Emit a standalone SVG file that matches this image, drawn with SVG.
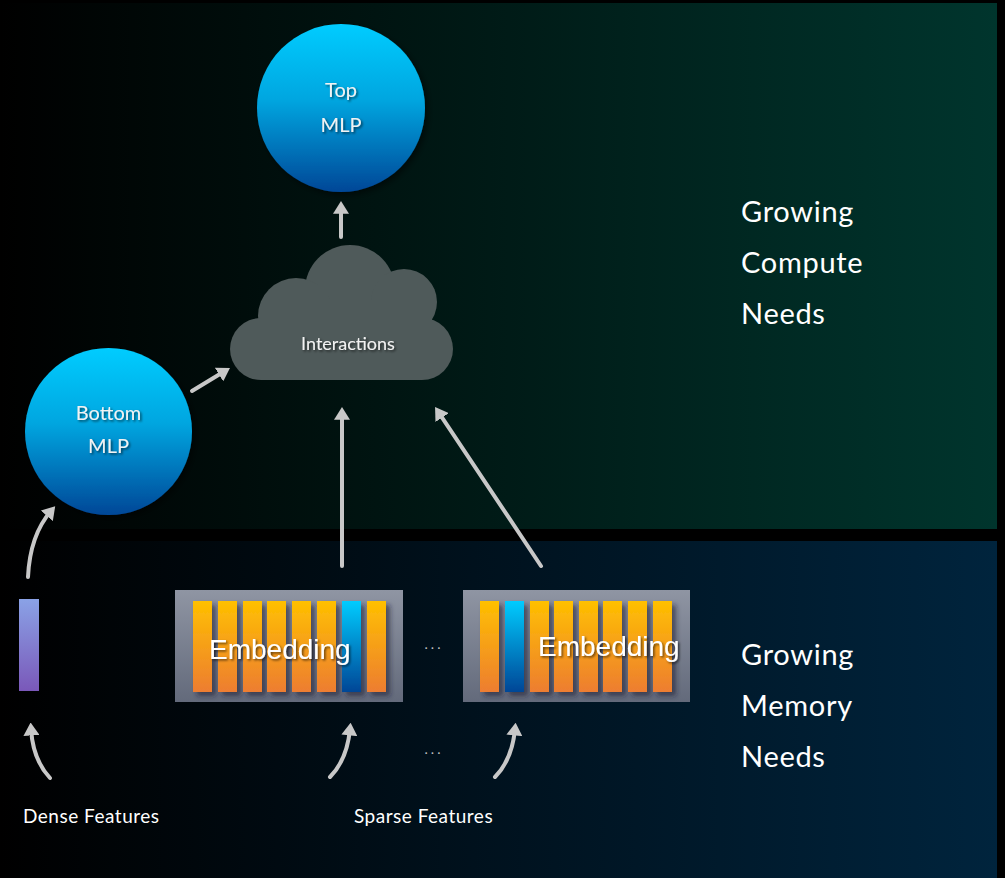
<svg xmlns="http://www.w3.org/2000/svg" width="1005" height="878" viewBox="0 0 1005 878">
  <defs>
    <linearGradient id="bandTop" x1="0" y1="0" x2="1" y2="0">
      <stop offset="0" stop-color="#000000"/>
      <stop offset="1" stop-color="#00352d"/>
    </linearGradient>
    <linearGradient id="bandBottom" x1="0" y1="0" x2="1" y2="0">
      <stop offset="0" stop-color="#000000"/>
      <stop offset="1" stop-color="#00243d"/>
    </linearGradient>
    <linearGradient id="mlpFill" x1="0" y1="0" x2="0" y2="1">
      <stop offset="0" stop-color="#00ccff"/>
      <stop offset="0.45" stop-color="#00a6e0"/>
      <stop offset="1" stop-color="#004797"/>
    </linearGradient>
    <linearGradient id="tableFill" x1="0" y1="0" x2="0" y2="1">
      <stop offset="0" stop-color="#8f95a3"/>
      <stop offset="1" stop-color="#636a7b"/>
    </linearGradient>
    <linearGradient id="orangeBar" x1="0" y1="0" x2="0" y2="1">
      <stop offset="0" stop-color="#ffc000"/>
      <stop offset="1" stop-color="#ed7d31"/>
    </linearGradient>
    <linearGradient id="blueBar" x1="0" y1="0" x2="0" y2="1">
      <stop offset="0" stop-color="#00ccff"/>
      <stop offset="1" stop-color="#004696"/>
    </linearGradient>
    <linearGradient id="denseBar" x1="0" y1="0" x2="0" y2="1">
      <stop offset="0" stop-color="#8aa2e6"/>
      <stop offset="1" stop-color="#7a58b9"/>
    </linearGradient>
    <filter id="softShadow" x="-20%" y="-20%" width="150%" height="150%">
      <feDropShadow dx="3" dy="3" stdDeviation="3" flood-color="#000" flood-opacity="0.5"/>
    </filter>
    <filter id="barShadow" x="-50%" y="-10%" width="200%" height="130%">
      <feDropShadow dx="4" dy="4" stdDeviation="2.5" flood-color="#1e2230" flood-opacity="0.6"/>
    </filter>
    <filter id="textShadow" x="-10%" y="-30%" width="130%" height="170%">
      <feDropShadow dx="1.5" dy="1.5" stdDeviation="1" flood-color="#000" flood-opacity="0.6"/>
    </filter>
    <marker id="head" viewBox="0 0 8 10" refX="4" refY="5" markerWidth="3.2" markerHeight="4" orient="auto">
      <path d="M0,0 L8,5 L0,10 z" fill="#c8c8c8"/>
    </marker>
  </defs>
  <style>
    .label { font-family: Lato, "Open Sans", "Liberation Sans", sans-serif; fill: #f2f2f2; }
    .node-label { font-size: 20px; text-anchor: middle; filter: url(#textShadow); }
    .side-label { font-size: 29px; fill: #ffffff; letter-spacing: 0.7px; }
    .feature-label { font-size: 19px; fill: #ffffff; letter-spacing: 0.5px; }
    .emb-label { font-family: "Liberation Sans", Arial, sans-serif; font-size: 28px; fill: #ffffff; filter: url(#textShadow); }
    .dots { font-family: Lato, "Liberation Sans", sans-serif; font-size: 14px; fill: #bfbfbf; text-anchor: middle; letter-spacing: 3px; }
    .arrow { fill: none; stroke: #c8c8c8; stroke-width: 4; stroke-linecap: round; marker-end: url(#head); }
    .bar-o { fill: url(#orangeBar); }
    .bar-b { fill: url(#blueBar); }
  </style>

  <!-- canvas -->
  <rect x="0" y="0" width="1005" height="878" fill="#000000"/>

  <!-- background bands -->
  <g id="bands">
    <rect x="0" y="3" width="997" height="526" fill="url(#bandTop)"/>
    <rect x="0" y="541" width="997" height="337" fill="url(#bandBottom)"/>
  </g>

  <g id="compute-label">
    <text class="label side-label" x="741" y="222">Growing</text>
    <text class="label side-label" x="741" y="273">Compute</text>
    <text class="label side-label" x="741" y="324">Needs</text>
  </g>
  <g id="memory-label">
    <text class="label side-label" x="741" y="665">Growing</text>
    <text class="label side-label" x="741" y="716">Memory</text>
    <text class="label side-label" x="741" y="767">Needs</text>
  </g>

  <!-- connectors -->
  <g id="connectors">
    <path class="arrow" d="M341,237 L341,207.4"/>
    <path class="arrow" d="M192,391 L224.5,371.3"/>
    <path class="arrow" d="M342,566 L342,413.4"/>
    <path class="arrow" d="M541,566 L438.6,412.3"/>
    <path class="arrow" d="M28,577 Q30,535 51,511"/>
    <path class="arrow" d="M50,778 Q33,760 31,729"/>
    <path class="arrow" d="M330,777 Q347,760 350,729"/>
    <path class="arrow" d="M495,777 Q512,760 515,729"/>
  </g>

  <g id="top-mlp">
    <circle cx="341" cy="108" r="84" fill="url(#mlpFill)" filter="url(#softShadow)"/>
    <text class="label node-label" x="341" y="97">Top</text>
    <text class="label node-label" x="341" y="132">MLP</text>
  </g>

  <g id="interactions">
    <g fill="#4f5a5a">
      <circle cx="350" cy="290" r="45"/>
      <circle cx="404" cy="302" r="33"/>
      <circle cx="296" cy="316" r="38"/>
      <rect x="230" y="318" width="223" height="62" rx="31" ry="31"/>
      <rect x="262" y="300" width="170" height="40"/>
    </g>
    <text class="label node-label" x="348" y="350" style="font-size:18px">Interactions</text>
  </g>

  <g id="bottom-mlp">
    <circle cx="108.5" cy="431.5" r="83.5" fill="url(#mlpFill)" filter="url(#softShadow)"/>
    <text class="label node-label" x="108.5" y="420">Bottom</text>
    <text class="label node-label" x="108.5" y="453">MLP</text>
  </g>

  <g id="dense-input">
    <rect x="19" y="599" width="20" height="92" fill="url(#denseBar)"/>
  </g>

  <g id="embedding-1">
    <rect x="175" y="590" width="228" height="112" fill="url(#tableFill)"/>
    <g filter="url(#barShadow)">
      <rect class="bar-o" x="193" y="601" width="19" height="91"/>
      <rect class="bar-o" x="218" y="601" width="19" height="91"/>
      <rect class="bar-o" x="243" y="601" width="19" height="91"/>
      <rect class="bar-o" x="267" y="601" width="19" height="91"/>
      <rect class="bar-o" x="292" y="601" width="19" height="91"/>
      <rect class="bar-o" x="317" y="601" width="19" height="91"/>
      <rect class="bar-b" x="342" y="601" width="19" height="91"/>
      <rect class="bar-o" x="367" y="601" width="19" height="91"/>
    </g>
    <text class="emb-label" x="209" y="659">Embedding</text>
  </g>

  <g id="embedding-2">
    <rect x="463" y="590" width="227" height="112" fill="url(#tableFill)"/>
    <g filter="url(#barShadow)">
      <rect class="bar-o" x="480" y="601" width="19" height="91"/>
      <rect class="bar-b" x="505" y="601" width="19" height="91"/>
      <rect class="bar-o" x="530" y="601" width="19" height="91"/>
      <rect class="bar-o" x="554" y="601" width="19" height="91"/>
      <rect class="bar-o" x="579" y="601" width="19" height="91"/>
      <rect class="bar-o" x="603" y="601" width="19" height="91"/>
      <rect class="bar-o" x="628" y="601" width="19" height="91"/>
      <rect class="bar-o" x="653" y="601" width="19" height="91"/>
    </g>
    <text class="emb-label" x="538" y="656">Embedding</text>
  </g>

  <g id="ellipses">
    <text class="dots" x="434" y="649">...</text>
    <text class="dots" x="434" y="754">...</text>
  </g>

  <g id="feature-labels">
    <text class="label feature-label" x="23" y="823">Dense Features</text>
    <text class="label feature-label" x="354" y="823">Sparse Features</text>
  </g>
</svg>
